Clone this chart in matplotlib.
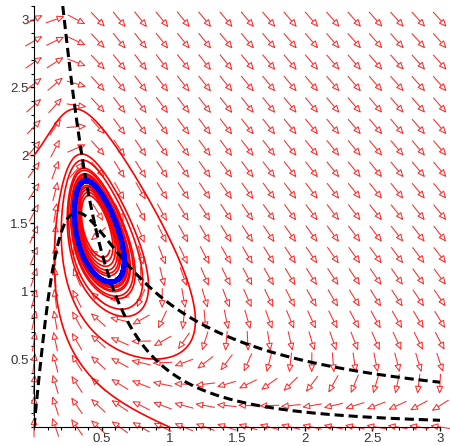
import numpy as np
import matplotlib
matplotlib.use("Agg")
import matplotlib.pyplot as plt
from matplotlib.ticker import MultipleLocator

# Sel'kov glycolysis model:  x' = -x + a*y + x^2*y,  y' = b - a*y - x^2*y
# parameters read from where the nullclines sit in the picture
A = 0.1
B = 0.45

X_RANGE = [0.0, 3.0]
Y_RANGE = [0.0, 3.1]
GRID_N = 20

# starting points of the red trajectories
START_X = [0.0, 1.0, 0.56]
START_Y = [2.0, 0.0, 1.30]
T_END = [60.0, 60.0, 60.0]

# a point on the limit cycle (blue)
CYCLE_START = [0.40, 1.80]

X_TICKS = [0.5, 1, 1.5, 2, 2.5, 3]
Y_TICKS = [0.5, 1, 1.5, 2, 2.5, 3]


def field(x, y):
    dx = -x + A * y + x * x * y
    dy = B - A * y - x * x * y
    return dx, dy


def rk4(x0, y0, t_end, dt=0.005):
    n = int(t_end / dt)
    xs = np.empty(n + 1)
    ys = np.empty(n + 1)
    xs[0], ys[0] = x0, y0
    x, y = x0, y0
    for i in range(n):
        k1 = field(x, y)
        k2 = field(x + dt / 2 * k1[0], y + dt / 2 * k1[1])
        k3 = field(x + dt / 2 * k2[0], y + dt / 2 * k2[1])
        k4 = field(x + dt * k3[0], y + dt * k3[1])
        x = x + dt / 6 * (k1[0] + 2 * k2[0] + 2 * k3[0] + k4[0])
        y = y + dt / 6 * (k1[1] + 2 * k2[1] + 2 * k3[1] + k4[1])
        xs[i + 1], ys[i + 1] = x, y
    return xs, ys


fig = plt.figure(figsize=(4.5, 4.46), dpi=100)
ax = fig.add_axes([34 / 450, 19 / 446, 406 / 450, 421 / 446])

# direction field, arrows of equal length centred on the grid points
gx = np.linspace(X_RANGE[0], X_RANGE[1], GRID_N)
gy = np.linspace(0.0, 3.0, GRID_N)
arrow_len = 0.145
for x in gx:
    for y in gy:
        u, v = field(x, y)
        r = np.hypot(u, v)
        if r == 0:
            continue
        u, v = u / r * arrow_len, v / r * arrow_len
        ax.annotate("", xy=(x + u / 2, y + v / 2), xytext=(x - u / 2, y - v / 2),
                    arrowprops=dict(arrowstyle="-|>,head_length=0.45,head_width=0.2",
                                    color="#ff2a2a", fc="white", lw=0.75,
                                    shrinkA=0, shrinkB=0),
                    annotation_clip=False, zorder=2)

# nullclines
xs = np.linspace(0.0, 3.0, 600)
ax.plot(xs, xs / (A + xs ** 2), "k--", lw=2.2, dashes=(3, 1.6), zorder=4)
x0 = np.sqrt(max(B / 3.1 - A, 0.0))
xs2 = np.linspace(x0, 3.0, 600)
ax.plot(xs2, B / (A + xs2 ** 2), "k--", lw=2.2, dashes=(3, 1.6), zorder=4)

# trajectories
for sx, sy, te in zip(START_X, START_Y, T_END):
    tx, ty = rk4(sx, sy, te)
    ax.plot(tx, ty, color="red", lw=1.2, zorder=3)

# limit cycle
cx, cy = rk4(CYCLE_START[0], CYCLE_START[1], 200.0)
ax.plot(cx[-6000:], cy[-6000:], color="blue", lw=3.5, zorder=5)

ax.set_xlim(X_RANGE)
ax.set_ylim(Y_RANGE)
for s in ["top", "right"]:
    ax.spines[s].set_visible(False)
ax.spines["left"].set_position(("data", 0))
ax.spines["bottom"].set_position(("data", 0))
ax.set_xticks(X_TICKS)
ax.set_yticks(Y_TICKS)
ax.set_xticklabels([f"{t:g}" for t in X_TICKS])
ax.set_yticklabels([f"{t:g}" for t in Y_TICKS])
ax.xaxis.set_minor_locator(MultipleLocator(0.1))
ax.yaxis.set_minor_locator(MultipleLocator(0.1))
ax.tick_params(which="major", length=3, width=1, labelsize=9.5,
               labelcolor="#333333", pad=1)
ax.tick_params(which="minor", length=2, width=0.8)
for lab in ax.get_xticklabels() + ax.get_yticklabels():
    lab.set_family("Liberation Sans")

fig.savefig("out.png", dpi=100)
